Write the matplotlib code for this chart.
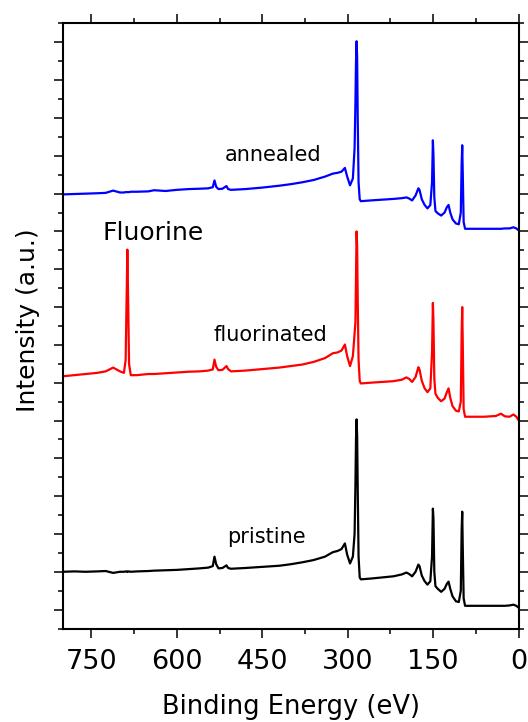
import numpy as np
import matplotlib
matplotlib.use("Agg")
import matplotlib.pyplot as plt
from matplotlib.ticker import MultipleLocator

# binding energy grid (eV), shared by the three spectra
energy = [800, 780, 760, 740, 725, 712, 700, 693, 690, 688,
          687, 686, 684, 681, 670, 650, 640, 620, 600, 580,
          560, 545, 537, 534, 531, 527, 520, 513, 510, 505,
          480, 450, 420, 400, 380, 360, 340, 326, 318, 311,
          305, 301, 296, 291, 288, 286.5, 285.5, 284.5, 283.5, 282.5,
          281, 279, 277, 260, 240, 220, 205, 197, 192, 187,
          181, 176, 174, 170, 165, 160, 155, 152, 150.5, 149.5,
          148, 146, 142, 136, 130, 126, 123, 120, 116, 110,
          105, 101.5, 100, 99, 98, 96.5, 94, 80, 60, 40,
          31, 24, 16, 9, 4, 0]

# intensities (a.u., already offset as stacked in the figure)
pristine = [1.00, 1.01, 1.00, 1.01, 1.02, 0.97, 1.00, 1.00, 1.01, 1.00,
            1.01, 1.00, 1.01, 1.00, 1.01, 1.02, 1.03, 1.04, 1.05, 1.07,
            1.09, 1.11, 1.15, 1.40, 1.20, 1.09, 1.10, 1.17, 1.10, 1.08,
            1.10, 1.13, 1.16, 1.20, 1.25, 1.31, 1.40, 1.52, 1.55, 1.60,
            1.75, 1.45, 1.22, 1.40, 2.00, 3.30, 4.50, 5.03, 4.60, 3.20,
            1.40, 0.85, 0.80, 0.82, 0.85, 0.88, 0.93, 0.98, 0.94, 0.88,
            1.00, 1.19, 1.15, 0.90, 0.75, 0.66, 0.75, 1.40, 2.67, 2.40,
            1.00, 0.62, 0.55, 0.47, 0.55, 0.68, 0.74, 0.55, 0.35, 0.22,
            0.20, 0.50, 2.10, 2.59, 1.60, 0.30, 0.10, 0.10, 0.10, 0.10,
            0.10, 0.10, 0.11, 0.13, 0.10, 0.05]

fluorinated = [6.17, 6.20, 6.23, 6.26, 6.30, 6.40, 6.30, 6.26, 6.60, 8.50,
               9.52, 8.60, 6.50, 6.20, 6.20, 6.23, 6.23, 6.25, 6.27, 6.29,
               6.30, 6.32, 6.35, 6.61, 6.42, 6.33, 6.34, 6.44, 6.36, 6.30,
               6.32, 6.36, 6.40, 6.44, 6.48, 6.55, 6.65, 6.78, 6.80, 6.85,
               7.01, 6.70, 6.44, 6.70, 7.30, 7.60, 8.80, 10.00, 9.60, 8.20,
               6.60, 6.05, 5.98, 6.00, 6.02, 6.04, 6.08, 6.14, 6.10, 6.02,
               6.15, 6.41, 6.35, 6.05, 5.85, 5.75, 5.85, 6.80, 8.11, 7.60,
               6.10, 5.71, 5.60, 5.51, 5.58, 5.75, 5.85, 5.60, 5.38, 5.26,
               5.24, 5.50, 7.30, 8.00, 7.00, 5.30, 5.10, 5.10, 5.10, 5.12,
               5.18, 5.11, 5.10, 5.16, 5.10, 5.01]

annealed = [10.98, 10.99, 11.00, 11.01, 11.02, 11.08, 11.03, 11.03, 11.04, 11.04,
            11.04, 11.04, 11.04, 11.05, 11.05, 11.06, 11.09, 11.07, 11.10, 11.12,
            11.13, 11.14, 11.17, 11.35, 11.18, 11.12, 11.13, 11.20, 11.12, 11.10,
            11.12, 11.16, 11.21, 11.25, 11.30, 11.36, 11.45, 11.53, 11.55, 11.58,
            11.68, 11.45, 11.22, 11.40, 12.20, 13.40, 14.50, 15.03, 14.60, 13.00,
            11.30, 10.85, 10.80, 10.82, 10.84, 10.86, 10.88, 10.90, 10.87, 10.82,
            10.95, 11.14, 11.10, 10.85, 10.70, 10.61, 10.70, 11.30, 12.41, 12.00,
            10.90, 10.54, 10.48, 10.42, 10.50, 10.64, 10.70, 10.50, 10.32, 10.21,
            10.19, 10.50, 11.80, 12.28, 11.50, 10.25, 10.07, 10.07, 10.07, 10.07,
            10.07, 10.08, 10.08, 10.11, 10.08, 10.03]

fig = plt.figure(figsize=(5.28, 7.22), dpi=100)
ax = fig.add_axes([0.1193, 0.1295, 0.8629, 0.838])

ax.plot(energy, pristine, color="black", lw=1.6)
ax.plot(energy, fluorinated, color="#ff0000", lw=1.6)
ax.plot(energy, annealed, color="#0000ff", lw=1.6)

ax.set_xlim(800, 0)
ax.set_ylim(-0.5, 15.5)
ax.xaxis.set_major_locator(MultipleLocator(150))
ax.xaxis.set_minor_locator(MultipleLocator(75))
ax.yaxis.set_major_locator(MultipleLocator(1))
ax.yaxis.set_minor_locator(MultipleLocator(0.5))

ax.tick_params(which="both", direction="out", top=True, right=True,
               labelleft=False, width=1.1, labelsize=19.5, pad=8)
ax.tick_params(which="major", length=6.5)
ax.tick_params(which="minor", length=3.6)
for sp in ax.spines.values():
    sp.set_linewidth(1.5)

ax.text(431, 11.87, "annealed", ha="center", va="baseline", fontsize=15)
ax.text(436, 7.09, "fluorinated", ha="center", va="baseline", fontsize=15)
ax.text(442, 1.77, "pristine", ha="center", va="baseline", fontsize=15)
ax.text(642, 9.77, "Fluorine", ha="center", va="baseline", fontsize=18)

fig.text(0.551, 0.011, "Binding Energy (eV)", ha="center", va="baseline", fontsize=18.5)
fig.text(0.0663, 0.556, "Intensity (a.u.)", ha="center", va="baseline",
         rotation=90, rotation_mode="anchor", fontsize=18)

fig.savefig("out.png", dpi=100)
